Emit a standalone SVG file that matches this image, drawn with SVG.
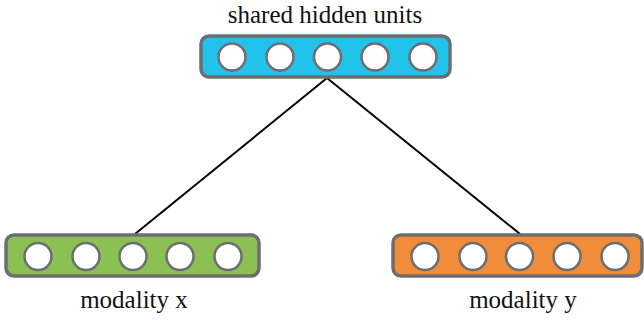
<svg xmlns="http://www.w3.org/2000/svg" width="644" height="320" viewBox="0 0 644 320">
<style>
.bar{stroke:#6d6e71;stroke-width:3.5}
.u{fill:#fff;stroke:#6d6e71;stroke-width:2.5}
.lbl{font-family:"Liberation Serif",serif;font-size:25px;fill:#111;text-anchor:middle}
.c{stroke:#000;stroke-width:2;fill:none}
</style>
<rect width="644" height="320" fill="#fff"/>
<g id="connectors">
<line class="c" x1="327" y1="78" x2="135" y2="234"/>
<line class="c" x1="327" y1="78" x2="520" y2="234"/>
</g>
<g id="shared">
<rect class="bar" x="201" y="36" width="249" height="41" rx="8" fill="#22c3ea"/>
<circle class="u" cx="232" cy="57" r="13.5"/>
<circle class="u" cx="280" cy="57" r="13.5"/>
<circle class="u" cx="327.5" cy="57" r="13.5"/>
<circle class="u" cx="375" cy="57" r="13.5"/>
<circle class="u" cx="423" cy="57" r="13.5"/>
<text class="lbl" x="325" y="23">shared hidden units</text>
</g>
<g id="modx">
<rect class="bar" x="6" y="235" width="253" height="41" rx="8" fill="#8bc152"/>
<circle class="u" cx="38" cy="256.5" r="13.5"/>
<circle class="u" cx="86" cy="256.5" r="13.5"/>
<circle class="u" cx="133" cy="256.5" r="13.5"/>
<circle class="u" cx="180" cy="256.5" r="13.5"/>
<circle class="u" cx="228" cy="256.5" r="13.5"/>
<text class="lbl" x="134" y="308">modality x</text>
</g>
<g id="mody">
<rect class="bar" x="393" y="235" width="249" height="41" rx="8" fill="#f08c3a"/>
<circle class="u" cx="425" cy="256.5" r="13.5"/>
<circle class="u" cx="473" cy="256.5" r="13.5"/>
<circle class="u" cx="519.5" cy="256.5" r="13.5"/>
<circle class="u" cx="567" cy="256.5" r="13.5"/>
<circle class="u" cx="615" cy="256.5" r="13.5"/>
<text class="lbl" x="523" y="308">modality y</text>
</g>
</svg>
